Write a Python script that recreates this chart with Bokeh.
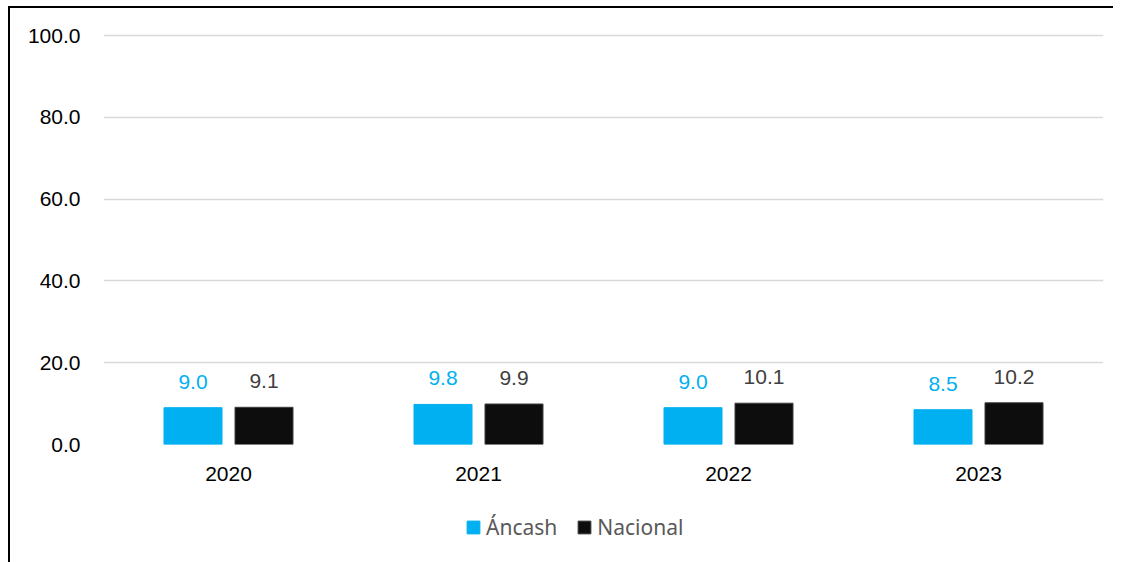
from bokeh.plotting import figure
from bokeh.layouts import column
from bokeh.models import (ColumnDataSource, FactorRange, Range1d, FixedTicker,
                          NumeralTickFormatter, Legend, LegendItem)
from bokeh.transform import dodge
from bokeh.core.properties import value
from bokeh.embed import file_html
from bokeh.resources import INLINE

years = ["2020", "2021", "2022", "2023"]
ancash = [9.0, 9.8, 9.0, 8.5]
nacional = [9.1, 9.9, 10.1, 10.2]
y_ticks = [0, 20, 40, 60, 80, 100]
series_names = ["Áncash", "Nacional"]
series_colors = ["#00b0f0", "#0d0d0d"]

src = ColumnDataSource(dict(
    year=years,
    ancash=ancash,
    nacional=nacional,
    ancash_lbl=[f"{v:.1f}" for v in ancash],
    nacional_lbl=[f"{v:.1f}" for v in nacional],
))

xr = FactorRange(*years)
p = figure(x_range=xr, y_range=Range1d(0, 100.5), width=1103, height=500,
           output_backend="svg", toolbar_location=None,
           min_border_left=93, min_border_right=10, min_border_top=25,
           min_border_bottom=64)
p.outline_line_color = None

off = 0.142
bw = 0.232
r1 = p.vbar(x=dodge("year", -off, range=xr), top="ancash", width=bw, source=src,
            fill_color=series_colors[0], line_color=series_colors[0])
r2 = p.vbar(x=dodge("year", off, range=xr), top="nacional", width=bw, source=src,
            fill_color=series_colors[1], line_color="#3f3f3f", line_width=1)

p.text(x=dodge("year", -off, range=xr), y="ancash", text="ancash_lbl", source=src,
       text_font=value("Liberation Sans"), text_font_size="21px",
       text_color="#00b0f0", text_align="center", text_baseline="middle",
       y_offset=-26)
p.text(x=dodge("year", off, range=xr), y="nacional", text="nacional_lbl", source=src,
       text_font=value("Liberation Sans"), text_font_size="21px",
       text_color="#404040", text_align="center", text_baseline="middle",
       y_offset=-26)

p.xgrid.grid_line_color = None
p.ygrid.grid_line_color = "#d9d9d9"
p.ygrid.grid_line_width = 1.5
p.ygrid.ticker = FixedTicker(ticks=y_ticks)

p.yaxis.ticker = FixedTicker(ticks=y_ticks)
p.yaxis.formatter = NumeralTickFormatter(format="0.0")
for ax in (p.xaxis[0], p.yaxis[0]):
    ax.axis_line_color = None
    ax.major_tick_line_color = None
    ax.minor_tick_line_color = None
    ax.major_tick_out = 0
    ax.major_tick_in = 0
    ax.major_label_text_font = "Liberation Sans"
    ax.major_label_text_font_size = "21px"
    ax.major_label_text_color = "#000000"
p.yaxis.major_label_standoff = 23
p.xaxis.major_label_standoff = 22

# legend strip: hidden copies of the bar renderers, only their legend is shown
xr2 = FactorRange(*years)
lf = figure(width=1103, height=54, output_backend="svg", toolbar_location=None,
            x_axis_type=None, y_axis_type=None, min_border=0,
            x_range=xr2, y_range=Range1d(-300, -200))
lf.outline_line_color = None
lf.xgrid.grid_line_color = None
lf.ygrid.grid_line_color = None
d1 = lf.vbar(x=dodge("year", -off, range=xr2), top="ancash", width=bw, source=src,
             fill_color=series_colors[0], line_color=series_colors[0])
d2 = lf.vbar(x=dodge("year", off, range=xr2), top="nacional", width=bw, source=src,
             fill_color=series_colors[1], line_color="#3f3f3f")
d1.visible = False
d2.visible = False
legend = Legend(items=[LegendItem(label=series_names[0], renderers=[d1]),
                       LegendItem(label=series_names[1], renderers=[d2])],
                location=(362, 21), orientation="horizontal",
                glyph_width=16, glyph_height=16, label_standoff=5, spacing=19,
                padding=0, margin=0, label_height=20,
                label_text_font="Noto Sans", label_text_font_size="21px",
                label_text_color="#595959", border_line_color=None,
                background_fill_alpha=0)
lf.add_layout(legend, "center")

layout = column(p, lf, spacing=0, margin=(6, 0, 0, 8),
                styles={"border-left": "2px solid #000000",
                        "border-top": "2px solid #000000"})

open("out.html", "w").write(file_html(layout, INLINE))
